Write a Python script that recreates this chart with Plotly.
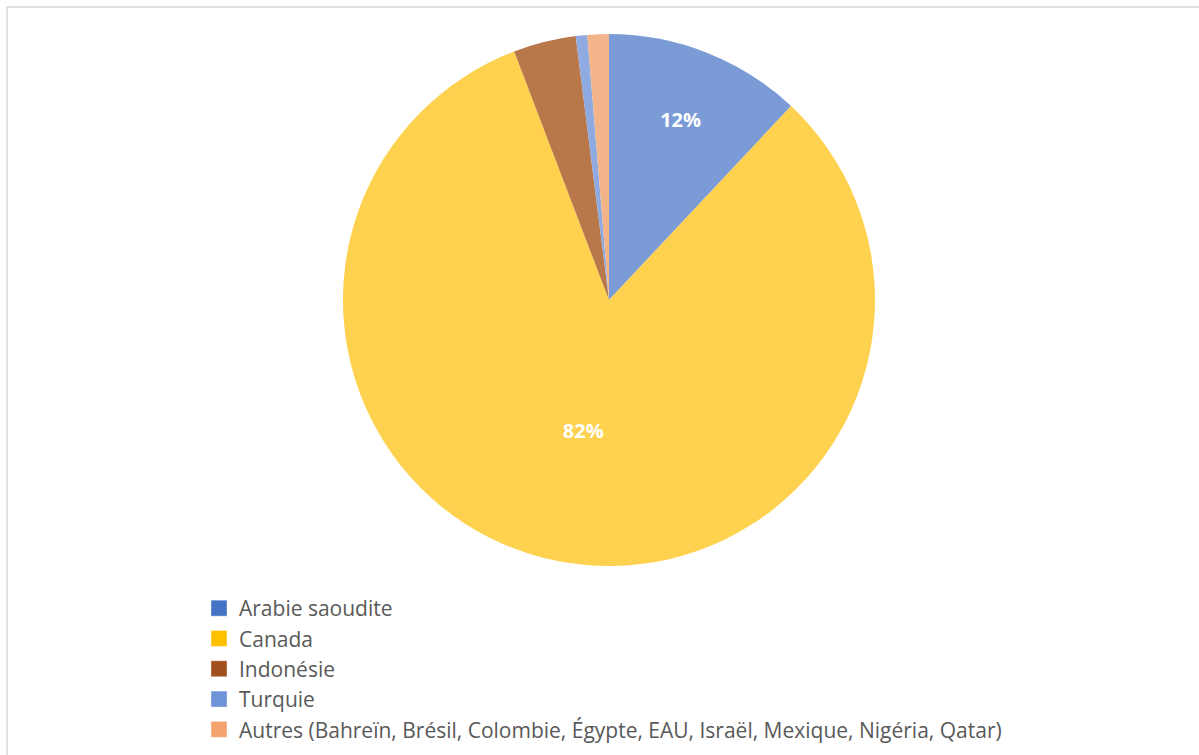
import plotly.graph_objects as go

countries = ["Arabie saoudite", "Canada", "Indonésie", "Turquie",
             "Autres (Bahreïn, Brésil, Colombie, Égypte, EAU, Israël, Mexique, Nigéria, Qatar)"]
shares = [12.0, 82.2, 3.8, 0.7, 1.3]
labels_shown = ["12%", "82%", "", "", ""]
slice_colors = ["#7B9BD7", "#FED14E", "#B8784A", "#8FAAE0", "#F4B48A"]
legend_colors = ["#4472C4", "#FFC000", "#A0501C", "#6F93D8", "#F4A26E"]

fig = go.Figure()
fig.add_trace(go.Pie(
    labels=countries,
    values=shares,
    text=labels_shown,
    textinfo="text",
    textposition="inside",
    insidetextorientation="horizontal",
    textfont=dict(family="Open Sans", size=20, color="white", weight="bold"),
    marker=dict(colors=slice_colors, line=dict(width=0)),
    sort=False,
    direction="clockwise",
    rotation=0,
    showlegend=False,
    domain=dict(x=[343/1199, 875/1199], y=[(755-566)/755, (755-34)/755]),
    hoverinfo="label+percent",
))

# legend swatches
for name, col in zip(countries, legend_colors):
    fig.add_trace(go.Scatter(
        x=[None], y=[None], mode="markers", name=name,
        marker=dict(symbol="square", size=16, color=col,
                    line=dict(color="rgba(255,255,255,0.4)", width=1)),
        showlegend=True, hoverinfo="skip",
    ))

fig.update_layout(
    width=1199, height=755,
    margin=dict(l=0, r=0, t=0, b=0),
    paper_bgcolor="white",
    plot_bgcolor="white",
    xaxis=dict(visible=False),
    yaxis=dict(visible=False),
    showlegend=True,
    legend=dict(
        x=199/1199, y=(755-588)/755, xanchor="left", yanchor="top",
        font=dict(family="Open Sans", size=21, color="#595959"),
        itemwidth=30, bgcolor="rgba(0,0,0,0)", tracegroupgap=0,
    ),
    shapes=[dict(type="rect", xref="paper", yref="paper",
                 x0=7/1199, x1=1.02, y0=-0.02, y1=(755-7)/755,
                 line=dict(color="#d9d9d9", width=1.5), layer="below")],
)

fig.write_html("out.html",
               config={"displayModeBar": False},
               post_script="document.body.style.margin='0';document.body.style.overflow='hidden';")
